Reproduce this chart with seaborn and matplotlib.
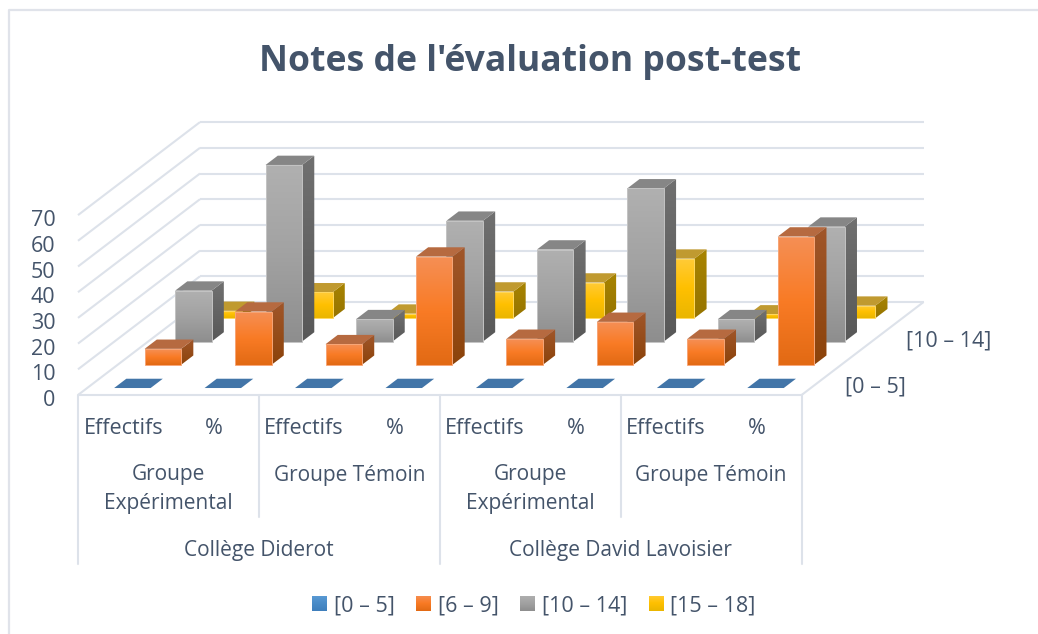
import numpy as np
import pandas as pd
import matplotlib
matplotlib.use("Agg")
import matplotlib.pyplot as plt
from matplotlib.colors import LinearSegmentedColormap
from matplotlib.patches import Polygon, Patch
import seaborn as sns

# Donnees
series = ["[0 – 5]", "[6 – 9]", "[10 – 14]", "[15 – 18]"]
mesures = ["Effectifs", "%", "Effectifs", "%", "Effectifs", "%", "Effectifs", "%"]
groupes = ["Groupe\nExpérimental", "Groupe Témoin", "Groupe\nExpérimental", "Groupe Témoin"]
colleges = ["Collège Diderot", "Collège David Lavoisier"]
notes_0_5 = [0, 0, 0, 0, 0, 0, 0, 0]
notes_6_9 = [6.2, 20.7, 8, 42.1, 10.1, 16.7, 10.1, 49.9]
notes_10_14 = [19.8, 68.7, 8.7, 47, 35.8, 59.6, 8.7, 44.7]
notes_15_18 = [2.9, 10.1, 1.8, 10.4, 13.9, 23.2, 1.5, 4.9]
ticks = [0, 10, 20, 30, 40, 50, 60, 70]

df = pd.DataFrame({"[0 – 5]": notes_0_5, "[6 – 9]": notes_6_9,
                   "[10 – 14]": notes_10_14, "[15 – 18]": notes_15_18})

sns.set_theme(style="white")
plt.rcParams["font.family"] = ["Open Sans", "DejaVu Sans"]

TXT = "#44546a"
GRID = "#dde2ea"
FS = 15.5
FS_GROUPE = 15

# face avant (haut, milieu, bas), cote (haut, bas), dessus, bord
styles = {
    "[0 – 5]": (["#5b9bd5", "#4a8cc8", "#3f7fbc"], ["#2f6090", "#2a5580"], "#4275a8", "#7fb0dd"),
    "[6 – 9]": (["#f58f55", "#f97b25", "#e26a14"], ["#a0562a", "#8c430a"], "#b66a40", "#f7a678"),
    "[10 – 14]": (["#b0b0b0", "#a2a2a2", "#8e8e8e"], ["#707070", "#585858"], "#868686", "#c4c4c4"),
    "[15 – 18]": (["#ffcb38", "#ffc000", "#eab600"], ["#a88400", "#967400"], "#c09a30", "#ffd860"),
}

fig, ax = plt.subplots(figsize=(10.38, 6.34), dpi=100)
ax.set_position([0, 0, 1, 1])
ax.set_xlim(0, 1038)
ax.set_ylim(634, 0)
ax.axis("off")

# projection oblique (categorie, profondeur, valeur) -> pixels
X0, Y0 = 78, 395
CAT_W = 90.45
DX, DY = 30.5, 23.25
UNIT = 2.57


def proj(c, d, v):
    return (X0 + c * CAT_W + d * DX, Y0 - d * DY - v * UNIT)


def grid_line(a, b):
    ax.plot([a[0], b[0]], [a[1], b[1]], color=GRID, lw=1.5, zorder=1, solid_capstyle="butt")


# murs et sol
for t in ticks:
    grid_line(proj(0, 0, t), proj(0, 4, t))
    grid_line(proj(0, 4, t), proj(8, 4, t))
    ax.text(55.5, Y0 - t * UNIT + 5.5, str(t), ha="right", va="center", color=TXT, fontsize=FS)
grid_line(proj(0, 0, 0), proj(8, 0, 0))
grid_line(proj(8, 0, 0), proj(8, 4, 0))


def face(pts, color, z):
    ax.add_patch(Polygon(pts, closed=True, fc=color, ec="none", zorder=z))


def gradient(pts, cols, z):
    cmap = LinearSegmentedColormap.from_list("g", cols)
    xs = [p[0] for p in pts]
    ys = [p[1] for p in pts]
    im = ax.imshow(np.linspace(0, 1, 64).reshape(-1, 1), cmap=cmap, aspect="auto", zorder=z,
                   extent=(min(xs), max(xs), max(ys), min(ys)), interpolation="bilinear")
    im.set_clip_path(Polygon(pts, closed=True, transform=ax.transData))


BAR = 36.5 / CAT_W
GAP = (1 - BAR) / 2
D1, D2 = 0.3, 0.7

# du fond vers l'avant
z = 3
for d in reversed(range(len(series))):
    name = series[d]
    front, side, top, bord = styles[name]
    for c, v in enumerate(df[name]):
        x1, x2 = c + GAP, c + GAP + BAR
        d1, d2 = d + D1, d + D2
        if v > 0:
            gradient([proj(x2, d1, 0), proj(x2, d2, 0), proj(x2, d2, v), proj(x2, d1, v)], side, z)
            pts = [proj(x1, d1, 0), proj(x2, d1, 0), proj(x2, d1, v), proj(x1, d1, v)]
            gradient(pts, front, z + 1)
            ax.add_patch(Polygon(pts, closed=True, fill=False, ec=bord, lw=0.7, zorder=z + 1.5))
        face([proj(x1, d1, v), proj(x2, d1, v), proj(x2, d2, v), proj(x1, d2, v)], top, z + 1)
    z += 2

# etiquettes de l'axe multi-niveaux
for c, m in enumerate(mesures):
    ax.text(X0 + (c + 0.5) * CAT_W, 428.5, m, ha="center", va="center", color=TXT, fontsize=FS)
for i, g in enumerate(groupes):
    ax.text(X0 + (2 * i + 1) * CAT_W, 489 if "\n" in g else 475.5, g, ha="center", va="center",
            color=TXT, fontsize=FS_GROUPE, linespacing=1.5)
    ax.plot([X0 + 2 * (i + 1) * CAT_W] * 2, [Y0, 517 if i % 2 == 0 else 564], color=GRID, lw=1.5, zorder=1)
for i, n in enumerate(colleges):
    ax.text(X0 + (4 * i + 2) * CAT_W, 550.5, n, ha="center", va="center", color=TXT, fontsize=FS_GROUPE)
ax.plot([X0, X0], [Y0, 564], color=GRID, lw=1.5, zorder=1)

# axe de profondeur
ax.text(875, 387.5, series[0], ha="center", va="center", color=TXT, fontsize=FS)
ax.text(949, 340.5, series[2], ha="center", va="center", color=TXT, fontsize=FS)

ax.text(530, 62, "Notes de l'évaluation post-test", ha="center", va="center",
        color=TXT, fontsize=25.6, fontweight="bold")

handles = [Patch(fc=styles[s][0][1], ec="none", label=s) for s in series]
leg = ax.legend(handles=handles, loc="center", bbox_to_anchor=(534 / 1038, 1 - 606 / 634), ncol=4,
                frameon=False, fontsize=FS, labelcolor=TXT, handlelength=0.7, handleheight=0.7,
                handletextpad=0.3, columnspacing=1.0)

# degrade dans les carres de la legende
fig.canvas.draw()
for h, s in zip(leg.get_patches(), series):
    b = h.get_window_extent().transformed(ax.transData.inverted())
    h.set_alpha(0)
    pts = [(b.x0, b.y0), (b.x1, b.y0), (b.x1, b.y1), (b.x0, b.y1)]
    gradient(pts, styles[s][0], 20)

ax.set_xlim(0, 1038)
ax.set_ylim(634, 0)
# cadre du graphique : seulement haut et gauche
ax.plot([9, 9, 1038], [634, 10, 10], color="#e0e3ea", lw=1.6, zorder=0, clip_on=False)

fig.savefig("out.png", dpi=100)
